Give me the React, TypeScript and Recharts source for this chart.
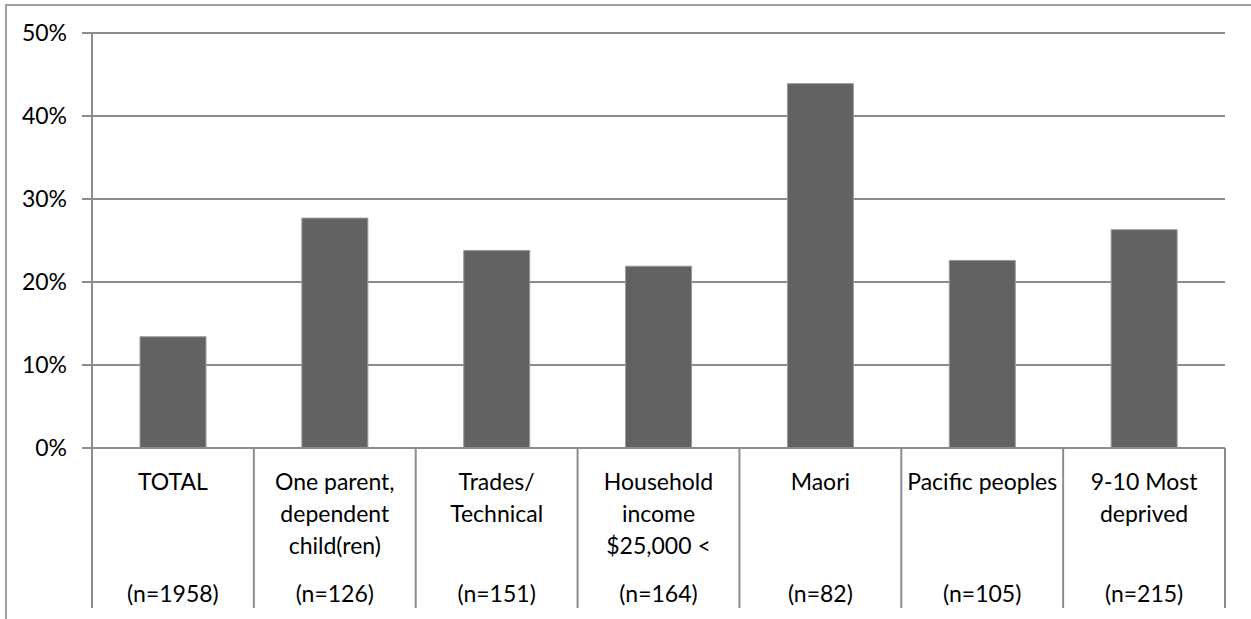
import React from 'react'
import {BarChart, Bar, CartesianGrid, XAxis, YAxis} from 'recharts'

const groups = ['TOTAL', 'One parent', 'Trades', 'Household income', 'Maori', 'Pacific', 'Most deprived']
const groupLines = [
  ['TOTAL'],
  ['One parent,', 'dependent', 'child(ren)'],
  ['Trades/', 'Technical'],
  ['Household', 'income', '$25,000 <'],
  ['Maori'],
  ['Pacific peoples'],
  ['9-10 Most', 'deprived'],
]
const sampleSizes = ['(n=1958)', '(n=126)', '(n=151)', '(n=164)', '(n=82)', '(n=105)', '(n=215)']
const shares = [13.4, 27.7, 23.8, 21.9, 43.9, 22.6, 26.3]
const yTicks = [0, 10, 20, 30, 40, 50]

const data = groups.map((g, i) => ({name: g, value: shares[i]}))

const FONT = 'Lato, "Open Sans", sans-serif'
const GRID = '#8c8c8c'

// category label with separators at the band edges and the sample size at the bottom
const GroupTick = (props: any) => {
  const {x, y, payload, index} = props
  const half = payload.offset || 81
  const lines = groupLines[index] || []
  return (
    <g>
      <line x1={x - half} x2={x - half} y1={y} y2={y + 160} stroke={GRID} strokeWidth={2}/>
      {index === groups.length - 1 && (
        <line x1={x + half} x2={x + half} y1={y} y2={y + 160} stroke={GRID} strokeWidth={2}/>
      )}
      {lines.map((t, i) => (
        <text key={i} x={x} y={y + 42 + i * 32} textAnchor="middle" fontSize={23} fill="#000" fontFamily={FONT}>
          {t}
        </text>
      ))}
      <text x={x} y={y + 154} textAnchor="middle" fontSize={23} fill="#000" fontFamily={FONT}>
        {sampleSizes[index]}
      </text>
    </g>
  )
}

const App = () => {
  return (
    <div style={{position: 'absolute', left: 0, top: 0, width: 1251, height: 619, background: '#fff', overflow: 'hidden'}}>
      <div style={{position: 'absolute', left: 5, top: 4, width: 1300, height: 700, borderTop: '2px solid #a0a0a0', borderLeft: '2px solid #a0a0a0'}}/>
      <BarChart width={1251} height={619} data={data} margin={{top: 33, right: 26, left: 0, bottom: 0}} barCategoryGap={48}>
        <CartesianGrid horizontal vertical={false} stroke={GRID} strokeWidth={2}/>
        <YAxis
          width={92}
          domain={[0, 50]}
          ticks={yTicks}
          tickFormatter={(v) => `${v}%`}
          axisLine={{stroke: GRID, strokeWidth: 2}}
          tickLine={{stroke: GRID, strokeWidth: 2}}
          tickSize={10}
          tickMargin={15}
          tick={{fontSize: 23, fill: '#000', fontFamily: FONT}}
        />
        <XAxis
          dataKey="name"
          height={171}
          interval={0}
          axisLine={{stroke: GRID, strokeWidth: 2}}
          tickLine={false}
          tickSize={0}
          tickMargin={0}
          tick={<GroupTick/>}
        />
        <Bar dataKey="value" fill="#626262" stroke="#9a9a9a" strokeWidth={1} barSize={66} isAnimationActive={false}/>
      </BarChart>
    </div>
  )
}

export default App
